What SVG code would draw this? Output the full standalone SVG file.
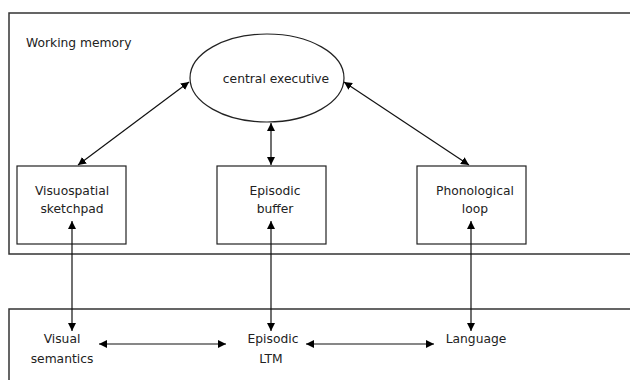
<svg xmlns="http://www.w3.org/2000/svg" width="630" height="380" viewBox="0 0 630 380">
<style>
.box{fill:none;stroke:#222;stroke-width:1.2}
.frame{fill:none;stroke:#333;stroke-width:1.5}
.t{font-family:"DejaVu Sans",sans-serif;font-size:12.3px;fill:#222;text-anchor:middle}
.c{stroke:#111;stroke-width:1.2;fill:none;marker-start:url(#ah);marker-end:url(#ah)}
</style>
<defs>
<marker id="ah" viewBox="0 0 10 10" refX="10" refY="5" markerWidth="8" markerHeight="8" markerUnits="userSpaceOnUse" orient="auto-start-reverse">
<path d="M0,0 L10,5 L0,10 z" fill="#000"/>
</marker>
</defs>
<rect width="630" height="380" fill="#fff"/>
<g id="working-memory">
<rect class="frame" x="9" y="13" width="640" height="241"/>
<text x="26" y="47" class="t" style="text-anchor:start">Working memory</text>
</g>
<g id="ltm">
<rect class="frame" x="9" y="309" width="640" height="90"/>
</g>
<g id="central-executive">
<ellipse class="box" cx="267" cy="78" rx="77" ry="44"/>
<text x="276" y="83" class="t">central executive</text>
</g>
<g id="visuospatial">
<rect class="box" x="17" y="166" width="109" height="78"/>
<text x="72" y="195" class="t">Visuospatial</text>
<text x="72" y="213" class="t">sketchpad</text>
</g>
<g id="episodic-buffer">
<rect class="box" x="217" y="166" width="109" height="78"/>
<text x="275" y="195" class="t">Episodic</text>
<text x="275" y="213" class="t">buffer</text>
</g>
<g id="phonological">
<rect class="box" x="417" y="166" width="109" height="78"/>
<text x="475" y="195" class="t">Phonological</text>
<text x="475" y="213" class="t">loop</text>
</g>
<g id="visual-semantics">
<text x="62" y="343" class="t">Visual</text>
<text x="62" y="363" class="t">semantics</text>
</g>
<g id="episodic-ltm">
<text x="273" y="343" class="t">Episodic</text>
<text x="271" y="363" class="t">LTM</text>
</g>
<g id="language">
<text x="476" y="343" class="t">Language</text>
</g>
<g id="connectors">
<line class="c" x1="78" y1="165" x2="189" y2="82"/>
<line class="c" x1="469" y1="165" x2="344" y2="82"/>
<line class="c" x1="271" y1="123" x2="271" y2="165"/>
<line class="c" x1="72" y1="221" x2="72" y2="331"/>
<line class="c" x1="271" y1="221" x2="271" y2="331"/>
<line class="c" x1="471" y1="221" x2="471" y2="331"/>
<line class="c" x1="99" y1="344" x2="226" y2="344"/>
<line class="c" x1="306" y1="344" x2="434" y2="344"/>
</g>
</svg>
